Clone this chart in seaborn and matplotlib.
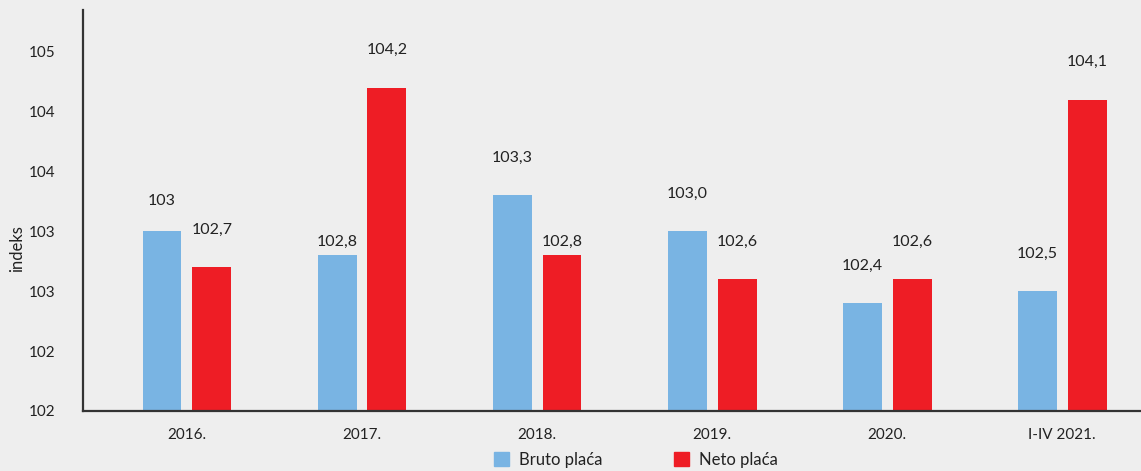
import numpy as np
import pandas as pd
import matplotlib.pyplot as plt
import seaborn as sns

# podaci
godine = ["2016.", "2017.", "2018.", "2019.", "2020.", "I-IV 2021."]
bruto = [103.0, 102.8, 103.3, 103.0, 102.4, 102.5]
neto = [102.7, 104.2, 102.8, 102.6, 102.6, 104.1]
bruto_oznake = ["103", "102,8", "103,3", "103,0", "102,4", "102,5"]
neto_oznake = ["102,7", "104,2", "102,8", "102,6", "102,6", "104,1"]
y_ticks = [101.5, 102.0, 102.5, 103.0, 103.5, 104.0, 104.5]
y_tick_labels = ["102", "102", "103", "103", "104", "104", "105"]

df = pd.DataFrame({
    "godina": godine * 2,
    "indeks": bruto + neto,
    "vrsta": ["Bruto plaća"] * len(godine) + ["Neto plaća"] * len(godine),
})

sns.set_theme(style="white")
plt.rcParams["font.family"] = ["Lato", "DejaVu Sans"]
bg = "#eeeeee"
boje = {"Bruto plaća": "#79b4e3", "Neto plaća": "#ee1d25"}

fig = plt.figure(figsize=(11.41, 4.71), dpi=100, facecolor=bg)
ax = fig.add_axes([0.0727, 0.1274, 0.9273, 0.8516])
ax.set_facecolor(bg)

sns.barplot(data=df, x="godina", y="indeks", hue="vrsta", palette=boje,
            saturation=1, width=0.57, gap=0.22, linewidth=0, ax=ax, legend=False)

ax.set_ylim(101.5, 104.85)
ax.set_xlim(-0.594, 5.45)
ax.set_yticks(y_ticks)
ax.set_yticklabels(y_tick_labels)
ax.tick_params(axis="y", length=0, pad=20, labelsize=11, labelcolor="#222222")
ax.tick_params(axis="x", length=0, pad=12, labelsize=11, labelcolor="#222222")
ax.set_xlabel("")
ax.set_ylabel("indeks", fontsize=12, color="#222222")
ax.yaxis.set_label_coords(-0.055, 0.406)

for s in ["top", "right"]:
    ax.spines[s].set_visible(False)
for s in ["left", "bottom"]:
    ax.spines[s].set_color("#333333")
    ax.spines[s].set_linewidth(1.6)

# oznake vrijednosti iznad stupaca
pomak = 27
poseban_pomak = {("Bruto plaća", 0): 22, ("Bruto plaća", 1): 10, ("Neto plaća", 2): 10}
for cont, (vrsta, oznake) in zip(ax.containers, [("Bruto plaća", bruto_oznake), ("Neto plaća", neto_oznake)]):
    for i, (bar, txt) in enumerate(zip(cont, oznake)):
        dy = poseban_pomak.get((vrsta, i), pomak)
        ax.annotate(txt, (bar.get_x() + bar.get_width() / 2, bar.get_height()),
                    xytext=(0, dy), textcoords="offset points",
                    ha="center", va="center", fontsize=11.5, color="#222222")

handles = [plt.Rectangle((0, 0), 1, 1, color=boje[k]) for k in boje]
fig.legend(handles, list(boje.keys()), loc="lower center",
           bbox_to_anchor=(0.557, -0.025), ncol=2, frameon=False,
           fontsize=12, handlelength=0.9, handleheight=0.9,
           columnspacing=4.3, handletextpad=0.6, labelcolor="#222222")

fig.savefig("out.png", dpi=100, facecolor=bg)
